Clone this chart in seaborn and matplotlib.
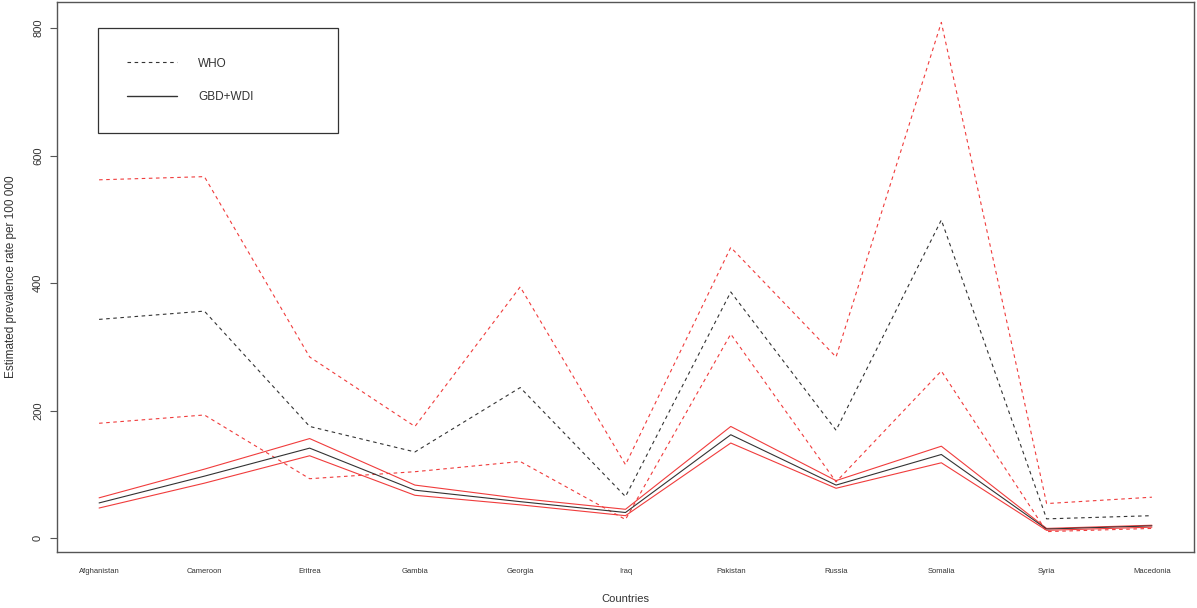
import matplotlib
matplotlib.use("Agg")
import matplotlib.pyplot as plt
from matplotlib.lines import Line2D
import pandas as pd
import seaborn as sns

# Estimated prevalence per 100 000, by country
countries = ["Afghanistan", "Cameroon", "Eritrea", "Gambia", "Georgia", "Iraq",
             "Pakistan", "Russia", "Somalia", "Syria", "Macedonia"]

who_est = [343, 356, 175, 135, 236, 65, 386, 169, 499, 30, 35]
who_low = [180, 193, 93, 104, 120, 29, 320, 88, 262, 10, 15]
who_high = [562, 567, 284, 175, 394, 115, 456, 284, 809, 54, 64]

gbd_est = [55, 97, 141, 75, 57, 40, 162, 83, 131, 14, 19]
gbd_low = [47, 86, 129, 67, 52, 35, 149, 78, 118, 12, 17]
gbd_high = [63, 108, 156, 83, 62, 45, 175, 90, 144, 15, 20]

legend_labels = ["WHO", "GBD+WDI"]

sns.set_style("white")
plt.rcParams["font.family"] = ["Liberation Sans", "DejaVu Sans"]

fig = plt.figure(figsize=(11.97, 6.08), dpi=100)
ax = fig.add_axes([0.0476, 0.0921, 0.9499, 0.9046])

RED = "#f03c3c"
DARK = "#333333"
dash = (0, (3.2, 3.2))
lw = 0.8

series = [
    (who_high, RED, dash),
    (who_est, DARK, dash),
    (who_low, RED, dash),
    (gbd_high, RED, "-"),
    (gbd_est, DARK, "-"),
    (gbd_low, RED, "-"),
]

for values, color, ls in series:
    df = pd.DataFrame({"country": countries, "value": values})
    sns.lineplot(data=df, x="country", y="value", sort=False, ax=ax,
                 color=color, linestyle=ls, linewidth=lw)

ax.set_xlim(-0.4, len(countries) - 1 + 0.4)
ax.set_ylim(-22, 841)
ax.set_yticks([0, 200, 400, 600, 800])
ax.set_xticks(range(len(countries)))
ax.set_xticklabels(countries)

for sp in ax.spines.values():
    sp.set_color("#555555")
    sp.set_linewidth(1.0)
    sp.set_visible(True)

ax.tick_params(axis="y", which="both", left=True, length=5, width=0.8,
               color="#555555", pad=5, labelsize=8, labelcolor="#333333")
for t in ax.get_yticklabels():
    t.set_rotation(90)
    t.set_va("center")
ax.tick_params(axis="x", which="both", bottom=False, length=0, pad=11.5,
               labelsize=5.5, labelcolor="#333333")

ax.set_xlabel("Countries", fontsize=8, color="#333333")
ax.set_ylabel("Estimated prevalence rate per 100 000", fontsize=8.5,
              color="#333333")
ax.xaxis.set_label_coords(0.5, -0.076)
ax.yaxis.set_label_coords(-0.0355, 0.5)

handles = [
    Line2D([], [], color=DARK, linestyle=dash, linewidth=lw),
    Line2D([], [], color=DARK, linestyle="-", linewidth=1.0),
]
leg = ax.legend(handles, legend_labels, loc="upper left",
                bbox_to_anchor=(0.036, 0.5, 0.211, 0.4527), mode="expand",
                borderaxespad=0, borderpad=2.5, labelspacing=1.85,
                handlelength=4.2, handletextpad=1.8, fontsize=8.5,
                frameon=True, fancybox=False, framealpha=1)
leg.get_frame().set_edgecolor("#333333")
leg.get_frame().set_linewidth(0.9)
for t in leg.get_texts():
    t.set_color("#333333")

fig.savefig("out.png", dpi=100)
